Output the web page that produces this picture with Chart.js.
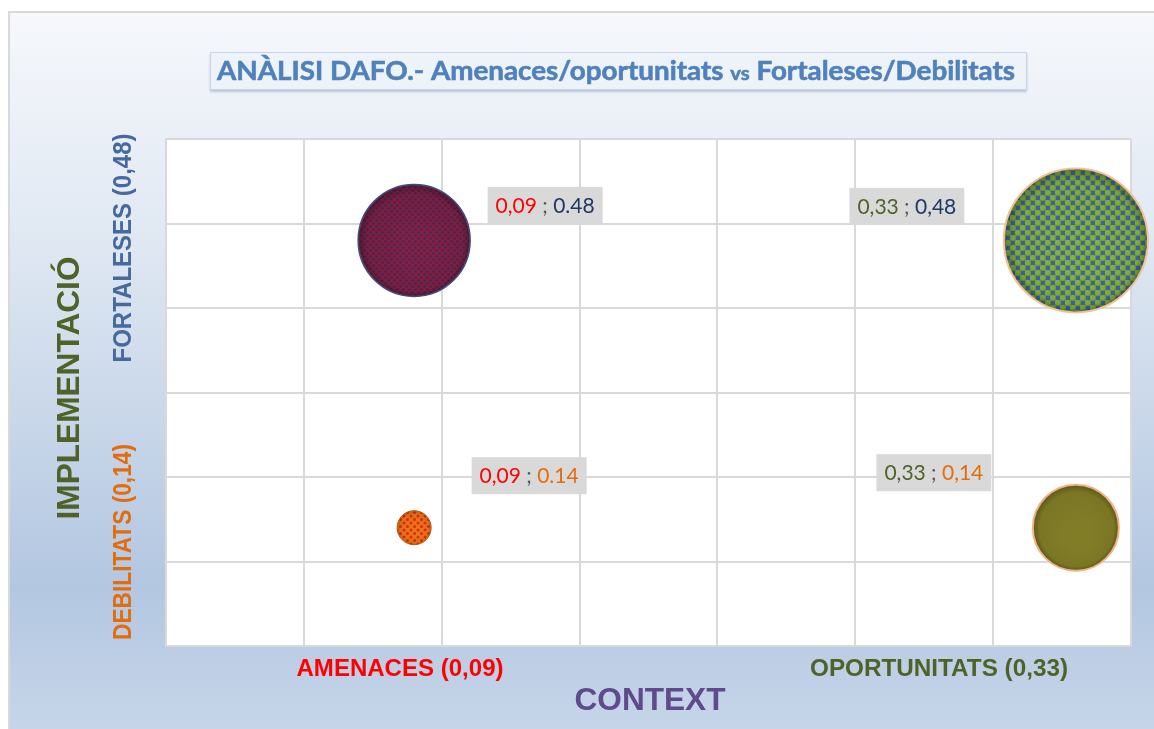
<!DOCTYPE html>
<html>
<head>
<meta charset="utf-8">
<title>DAFO</title>
<script src="https://cdn.jsdelivr.net/npm/chart.js@4.4.0/dist/chart.umd.min.js"></script>
<style>
  html, body { margin: 0; padding: 0; background: #fff; }
  canvas { display: block; }
</style>
</head>
<body>
<canvas id="dafo" width="1154" height="729"></canvas>
<script>
// --- dades ---
const contextValues = [0.09, 0.33, 0.09, 0.33];
const implementationValues = [0.48, 0.48, 0.14, 0.14];
const bubbleSizes = [56, 72, 17, 43];
const contextLabels = ['0,09', '0,33', '0,09', '0,33'];
const implementationLabels = ['0.48', '0,48', '0.14', '0,14'];
const xCategories = ['AMENACES (0,09)', 'OPORTUNITATS (0,33)'];
const yCategories = ['FORTALESES (0,48)', 'DEBILITATS (0,14)'];
const xAxisTitle = 'CONTEXT';
const yAxisTitle = 'IMPLEMENTACIÓ';
const xRange = [0, 0.35, 0.05];
const yRange = [0, 0.6, 0.1];

// --- patrons de farciment ---
function makePattern(size, base, draw) {
  const c = document.createElement('canvas');
  c.width = c.height = size;
  const g = c.getContext('2d');
  g.fillStyle = base;
  g.fillRect(0, 0, size, size);
  draw(g);
  return g.createPattern(c, 'repeat');
}
function dot(g, x, y, r, color) {
  g.fillStyle = color;
  g.beginPath();
  g.arc(x, y, r, 0, Math.PI * 2);
  g.fill();
}

const maroonDots = makePattern(6, '#8a1d40', g => {
  dot(g, 1.5, 1.5, 1.2, '#2e2d5c');
  dot(g, 4.5, 4.5, 1.2, '#2e2d5c');
});
const greenChecks = makePattern(10, '#6f9a3a', g => {
  dot(g, 7.5, 2.5, 2.6, '#86b046');
  dot(g, 2.5, 7.5, 2.6, '#86b046');
  g.fillStyle = '#3d66a2';
  g.fillRect(1, 1, 4, 4);
  g.fillRect(6, 6, 4, 4);
});
const orangeDots = makePattern(7, '#ec7418', g => {
  dot(g, 1.5, 1.5, 1.5, '#dc2c0e');
  dot(g, 5, 5, 1.5, '#dc2c0e');
});
const oliveHatch = makePattern(4, '#7f7d25', g => {
  g.fillStyle = '#8d7a2e';
  g.fillRect(0, 0, 1, 1);
  g.fillRect(2, 2, 1, 1);
});

const bubbleFills = [maroonDots, greenChecks, orangeDots, oliveHatch];
const bubbleBorders = ['#3a4d80', '#f3c09a', '#a85410', '#f4b183'];
const bubbleBorderWidths = [1.5, 2, 1, 2];

const xLabelColors = ['#ff0000', '#4f6228', '#ff0000', '#4f6228'];
const yLabelColors = ['#1f3864', '#1f3864', '#e46c0a', '#e46c0a'];
const labelOffsets = [[131, -35], [-169, -34], [115, -52], [-142, -55]];

function fittedText(ctx, text, cx, cy, font, color, width, rotated) {
  ctx.save();
  ctx.font = font;
  ctx.fillStyle = color;
  ctx.textAlign = 'center';
  ctx.textBaseline = 'middle';
  const w = ctx.measureText(text).width;
  ctx.translate(cx, cy);
  if (rotated) ctx.rotate(-Math.PI / 2);
  ctx.scale(width / w, 1);
  ctx.fillText(text, 0, 0);
  ctx.restore();
}

const framePlugin = {
  id: 'frame',
  beforeDraw(chart) {
    const { ctx, chartArea } = chart;
    ctx.save();
    ctx.fillStyle = '#ffffff';
    ctx.fillRect(0, 0, chart.width, chart.height);

    const grad = ctx.createLinearGradient(0, 12, 0, chart.height);
    grad.addColorStop(0, '#f6f8fc');
    grad.addColorStop(0.3, '#e1e9f3');
    grad.addColorStop(0.8, '#b3c7e1');
    grad.addColorStop(1, '#c6d5e9');
    ctx.fillStyle = grad;
    ctx.fillRect(9, 12, chart.width, chart.height);
    ctx.strokeStyle = '#d9d9d9';
    ctx.lineWidth = 2;
    ctx.strokeRect(9, 12, chart.width + 10, chart.height + 10);

    // caixa del títol
    ctx.shadowColor = 'rgba(120,140,170,0.45)';
    ctx.shadowOffsetY = 2;
    ctx.shadowBlur = 2;
    ctx.fillStyle = '#eef3f9';
    ctx.fillRect(210, 52, 817, 38);
    ctx.shadowColor = 'transparent';
    ctx.strokeStyle = '#c9d5e6';
    ctx.lineWidth = 1;
    ctx.strokeRect(210.5, 52.5, 816, 37);

    const parts = ['ANÀLISI DAFO.- Amenaces/oportunitats ', 'vs', ' Fortaleses/Debilitats'];
    const fonts = ['bold 26px Lato', 'bold 19px Lato', 'bold 26px Lato'];
    let total = 0;
    const widths = parts.map((p, i) => { ctx.font = fonts[i]; const w = ctx.measureText(p).width; total += w; return w; });
    const sx = 798 / total;
    ctx.translate(217, 80);
    ctx.scale(sx, 1);
    ctx.fillStyle = '#4f81bd';
    ctx.strokeStyle = '#4f81bd';
    ctx.lineWidth = 0.6;
    ctx.textBaseline = 'alphabetic';
    let x = 0;
    parts.forEach((p, i) => {
      ctx.font = fonts[i];
      ctx.fillText(p, x, 0);
      ctx.strokeText(p, x, 0);
      x += widths[i];
    });
    ctx.restore();

    ctx.save();
    ctx.fillStyle = '#ffffff';
    ctx.fillRect(chartArea.left, chartArea.top, chartArea.right - chartArea.left, chartArea.bottom - chartArea.top);
    ctx.restore();
  },
  afterDraw(chart) {
    const { ctx } = chart;
    const narrow = "'Liberation Sans Narrow', 'Liberation Sans', Arial";
    fittedText(ctx, xCategories[0], 400, 669, `bold 24px ${narrow}`, '#ff0000', 207, false);
    fittedText(ctx, xCategories[1], 939, 669, `bold 24px ${narrow}`, '#4f6228', 258, false);
    fittedText(ctx, xAxisTitle, 650, 701, `bold 32px ${narrow}`, '#5f4b8b', 151, false);
    fittedText(ctx, yCategories[0], 124, 248, `bold 25px ${narrow}`, '#46699e', 229, true);
    fittedText(ctx, yCategories[1], 124, 542, `bold 25px ${narrow}`, '#e46c0a', 196, true);
    fittedText(ctx, yAxisTitle, 70, 388, `bold 31px ${narrow}`, '#4f6228', 263, true);
  }
};

const labelPlugin = {
  id: 'bubbleLabels',
  afterDatasetsDraw(chart) {
    const { ctx } = chart;
    const meta = chart.getDatasetMeta(0);
    ctx.save();
    // ombra interior de les bombolles
    meta.data.forEach(el => {
      const r = el.options.radius;
      const g = ctx.createRadialGradient(el.x + r * 0.1, el.y + r * 0.2, r * 0.3, el.x, el.y, r);
      g.addColorStop(0, 'rgba(0,0,0,0)');
      g.addColorStop(0.8, 'rgba(0,0,0,0.05)');
      g.addColorStop(1, 'rgba(0,0,0,0.3)');
      ctx.fillStyle = g;
      ctx.beginPath();
      ctx.arc(el.x, el.y, r - 1, 0, Math.PI * 2);
      ctx.fill();
    });

    ctx.font = '21px Lato';
    ctx.textBaseline = 'middle';
    meta.data.forEach((el, i) => {
      const parts = [contextLabels[i], ' ; ', implementationLabels[i]];
      const colors = [xLabelColors[i], '#595959', yLabelColors[i]];
      const widths = parts.map(p => ctx.measureText(p).width);
      const tw = widths.reduce((a, b) => a + b, 0);
      const bw = tw + 16, bh = 37;
      const cx = el.x + labelOffsets[i][0];
      const cy = el.y + labelOffsets[i][1];
      ctx.fillStyle = '#d9d9d9';
      ctx.fillRect(cx - bw / 2, cy - bh / 2, bw, bh);
      let x = cx - tw / 2;
      parts.forEach((p, k) => {
        ctx.fillStyle = colors[k];
        ctx.fillText(p, x, cy + 1);
        x += widths[k];
      });
    });
    ctx.restore();
  }
};

new Chart(document.getElementById('dafo'), {
  type: 'bubble',
  data: {
    datasets: [{
      data: contextValues.map((v, i) => ({ x: v, y: implementationValues[i], r: bubbleSizes[i] })),
      backgroundColor: bubbleFills,
      borderColor: bubbleBorders,
      borderWidth: bubbleBorderWidths,
      hoverRadius: 0,
      clip: false
    }]
  },
  options: {
    responsive: false,
    animation: false,
    events: [],
    layout: { autoPadding: false, padding: { left: 166, top: 139, right: 23, bottom: 83 } },
    plugins: { legend: { display: false }, tooltip: { enabled: false } },
    scales: {
      x: {
        type: 'linear', min: xRange[0], max: xRange[1],
        ticks: { display: false, stepSize: xRange[2] },
        grid: { color: '#d9d9d9', lineWidth: 2, drawTicks: false },
        border: { display: true, color: '#d9d9d9', width: 2 },
        afterFit: s => { s.height = 0; }
      },
      y: {
        type: 'linear', min: yRange[0], max: yRange[1],
        ticks: { display: false, stepSize: yRange[2] },
        grid: { color: '#d9d9d9', lineWidth: 2, drawTicks: false },
        border: { display: true, color: '#d9d9d9', width: 2 },
        afterFit: s => { s.width = 0; }
      }
    }
  },
  plugins: [framePlugin, labelPlugin]
});
</script>
</body>
</html>
